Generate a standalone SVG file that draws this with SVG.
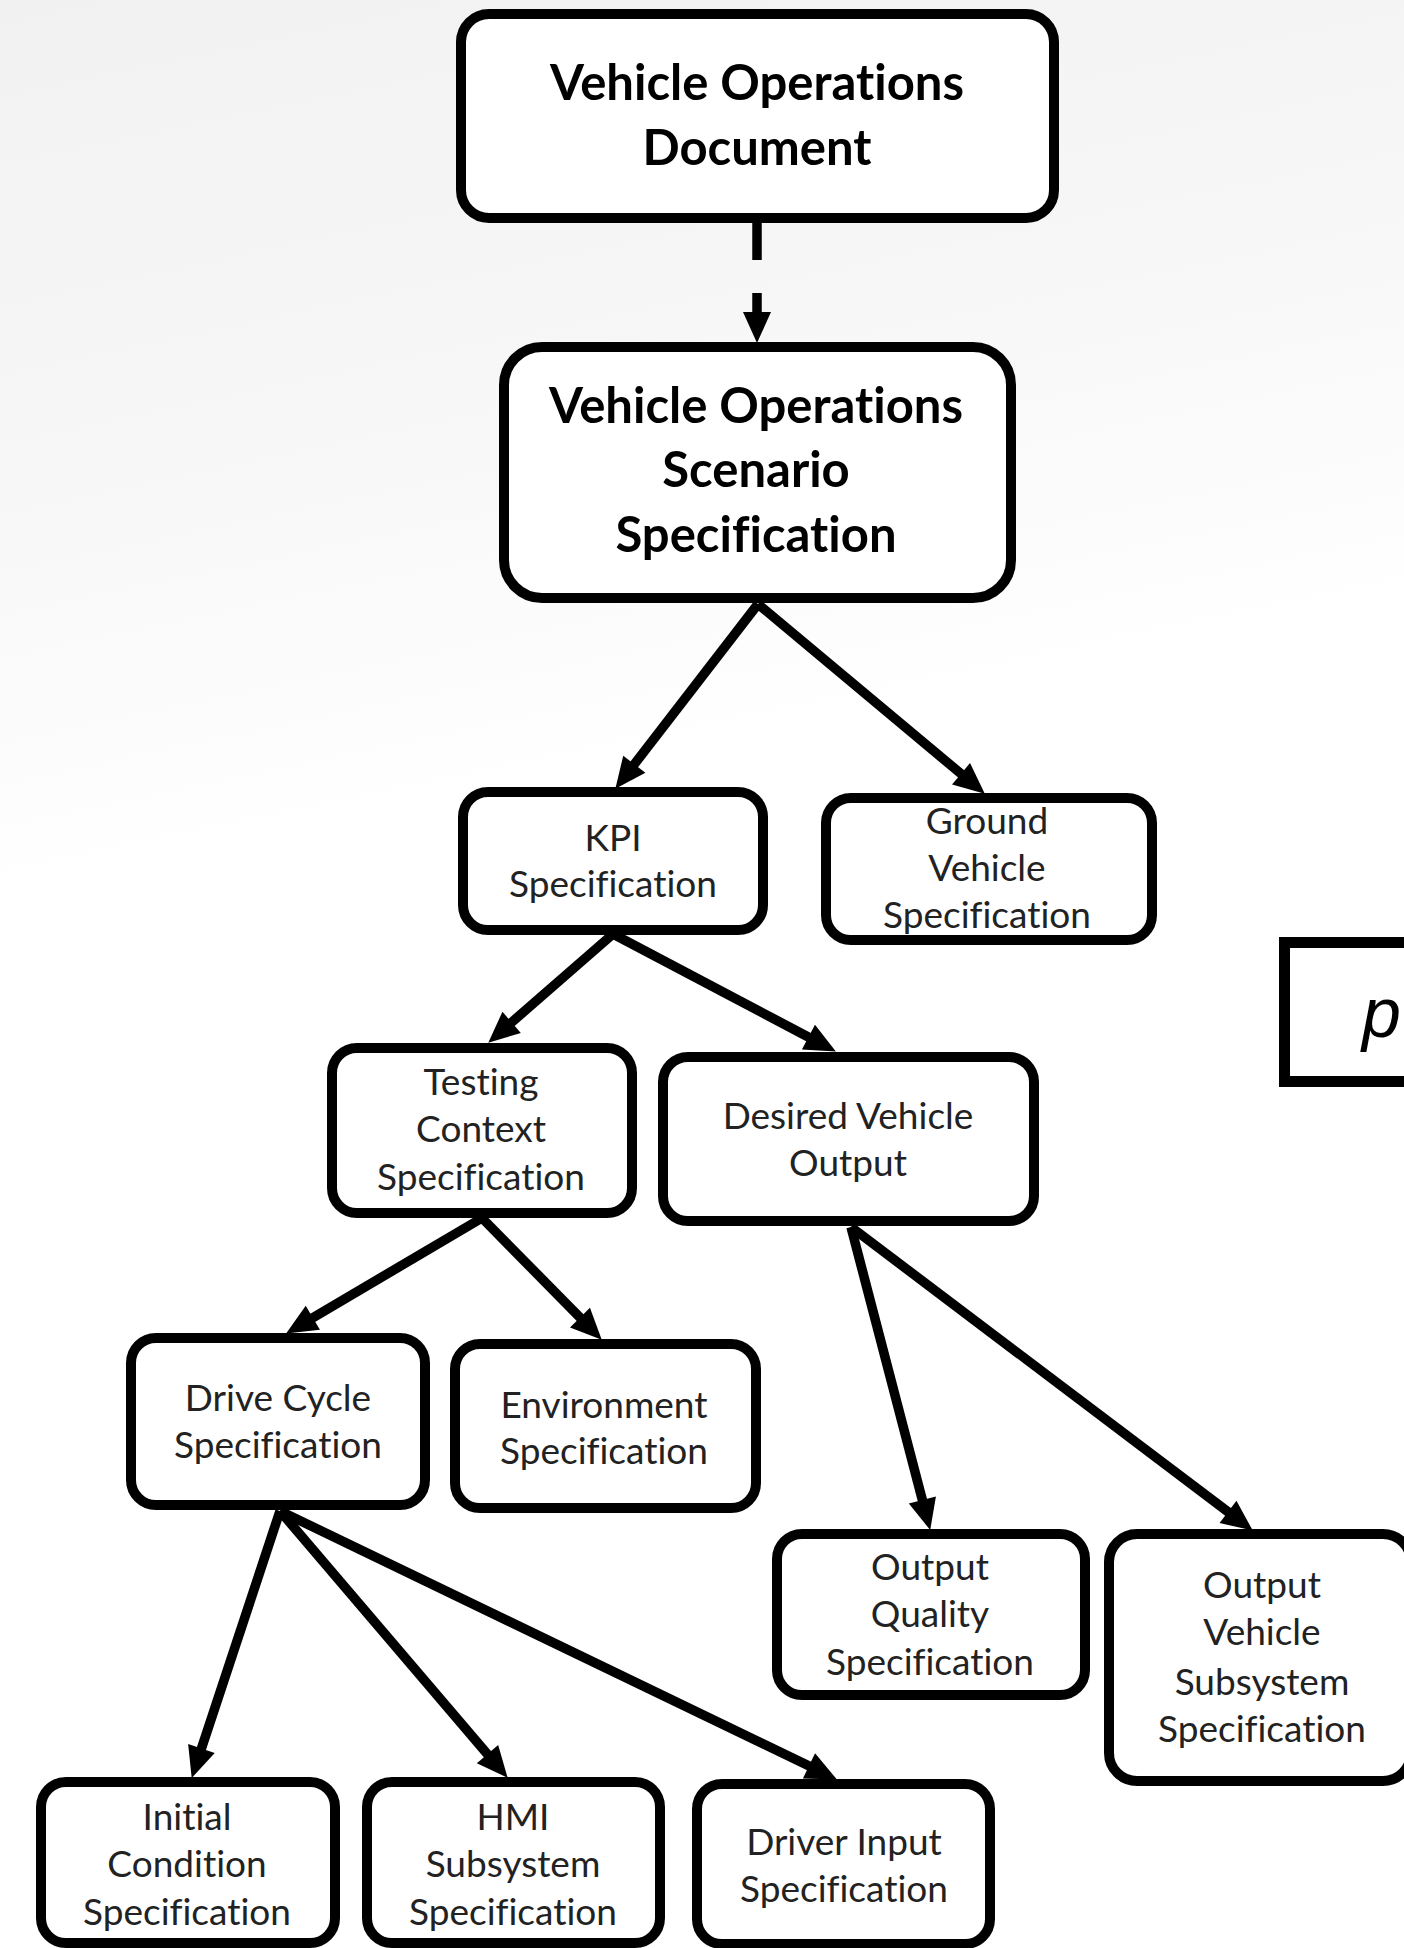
<svg xmlns="http://www.w3.org/2000/svg" width="1404" height="1948" viewBox="0 0 1404 1948">
  <defs>
    <linearGradient id="bg" x1="0" y1="0" x2="0.15" y2="1">
      <stop offset="0" stop-color="#f1f1f1"/>
      <stop offset="0.28" stop-color="#f8f8f8"/>
      <stop offset="0.45" stop-color="#ffffff"/>
      <stop offset="1" stop-color="#ffffff"/>
    </linearGradient>
    <marker id="head" markerUnits="userSpaceOnUse" markerWidth="32" markerHeight="30" refX="10" refY="14" orient="auto" overflow="visible">
      <path d="M0,0 L31,14 L0,28 Z" fill="#000"/>
    </marker>
    <style>
      .box { fill: #ffffff; stroke: #000000; stroke-width: 10; }
      .sq { fill: #ffffff; stroke: #000000; stroke-width: 11; }
      text { font-variant-ligatures: none; font-feature-settings: "liga" 0; }
      .big { font-family: Lato, "Open Sans", sans-serif; font-weight: 700; font-size: 49px; fill: #000; text-anchor: middle; }
      .lbl { font-family: Lato, "Open Sans", sans-serif; font-size: 37px; fill: #222; text-anchor: middle; }
      .ital { font-family: "Liberation Sans", Arial, sans-serif; font-style: italic; font-size: 70px; fill: #000; }
      .edge { fill: none; stroke: #000; stroke-width: 9.5; marker-end: url(#head); }
      .dash { stroke-dasharray: 38 33; }
    </style>
  </defs>

  <rect x="0" y="0" width="1404" height="1948" fill="url(#bg)"/>

  <!-- nodes -->
  <g id="vehicle-operations-document">
    <rect class="box" x="461" y="14" width="593" height="204" rx="28"/>
    <text class="big" x="757" y="100">Vehicle Operations</text>
    <text class="big" x="757" y="165">Document</text>
  </g>

  <g id="scenario-specification">
    <rect class="box" x="504" y="347" width="507" height="251" rx="38"/>
    <text class="big" x="756" y="423">Vehicle Operations</text>
    <text class="big" x="756" y="487">Scenario</text>
    <text class="big" x="756" y="552">Specification</text>
  </g>

  <g id="kpi-specification">
    <rect class="box" x="463" y="792" width="300" height="138" rx="25"/>
    <text class="lbl" x="613" y="851">KPI</text>
    <text class="lbl" x="613" y="897">Specification</text>
  </g>

  <g id="ground-vehicle-specification">
    <rect class="box" x="826" y="798" width="326" height="142" rx="25"/>
    <text class="lbl" x="987" y="834">Ground</text>
    <text class="lbl" x="987" y="881">Vehicle</text>
    <text class="lbl" x="987" y="928">Specification</text>
  </g>

  <g id="testing-context-specification">
    <rect class="box" x="332" y="1048" width="300" height="165" rx="25"/>
    <text class="lbl" x="481" y="1095">Testing</text>
    <text class="lbl" x="481" y="1142">Context</text>
    <text class="lbl" x="481" y="1190">Specification</text>
  </g>

  <g id="desired-vehicle-output">
    <rect class="box" x="663" y="1057" width="371" height="164" rx="25"/>
    <text class="lbl" x="848" y="1129">Desired Vehicle</text>
    <text class="lbl" x="848" y="1176">Output</text>
  </g>

  <g id="drive-cycle-specification">
    <rect class="box" x="131" y="1338" width="294" height="167" rx="25"/>
    <text class="lbl" x="278" y="1411">Drive Cycle</text>
    <text class="lbl" x="278" y="1458">Specification</text>
  </g>

  <g id="environment-specification">
    <rect class="box" x="455" y="1344" width="301" height="164" rx="25"/>
    <text class="lbl" x="604" y="1418">Environment</text>
    <text class="lbl" x="604" y="1464">Specification</text>
  </g>

  <g id="output-quality-specification">
    <rect class="box" x="777" y="1534" width="308" height="161" rx="25"/>
    <text class="lbl" x="930" y="1580">Output</text>
    <text class="lbl" x="930" y="1627">Quality</text>
    <text class="lbl" x="930" y="1675">Specification</text>
  </g>

  <g id="output-vehicle-subsystem-specification">
    <rect class="box" x="1109" y="1534" width="302" height="247" rx="28"/>
    <text class="lbl" x="1262" y="1598">Output</text>
    <text class="lbl" x="1262" y="1645">Vehicle</text>
    <text class="lbl" x="1262" y="1695">Subsystem</text>
    <text class="lbl" x="1262" y="1742">Specification</text>
  </g>

  <g id="initial-condition-specification">
    <rect class="box" x="41" y="1782" width="294" height="161" rx="25"/>
    <text class="lbl" x="187" y="1830">Initial</text>
    <text class="lbl" x="187" y="1877">Condition</text>
    <text class="lbl" x="187" y="1925">Specification</text>
  </g>

  <g id="hmi-subsystem-specification">
    <rect class="box" x="367" y="1782" width="293" height="161" rx="25"/>
    <text class="lbl" x="513" y="1830">HMI</text>
    <text class="lbl" x="513" y="1877">Subsystem</text>
    <text class="lbl" x="513" y="1925">Specification</text>
  </g>

  <g id="driver-input-specification">
    <rect class="box" x="697" y="1784" width="293" height="160" rx="25"/>
    <text class="lbl" x="844" y="1855">Driver Input</text>
    <text class="lbl" x="844" y="1902">Specification</text>
  </g>

  <g id="side-panel">
    <rect class="sq" x="1284.5" y="942.5" width="200" height="139"/>
    <text class="ital" x="1362" y="1037">p</text>
  </g>

  <!-- connectors -->
  <g id="connectors">
    <path class="edge dash" d="M757,222 L757,322"/>
    <path class="edge" d="M758,604 L628.2,772.2"/>
    <path class="edge" d="M758,604 L968.7,780.2"/>
    <path class="edge" d="M613,934 L504.1,1028.9"/>
    <path class="edge" d="M613,934 L817.3,1041.7"/>
    <path class="edge" d="M482,1218 L304.2,1322.8"/>
    <path class="edge" d="M482,1218 L587,1324.7"/>
    <path class="edge" d="M851,1227 L924.9,1509.7"/>
    <path class="edge" d="M851,1227 L1236,1517.9"/>
    <path class="edge" d="M280,1511 L198.3,1758"/>
    <path class="edge" d="M280,1511 L494,1761.8"/>
    <path class="edge" d="M280,1511 L818,1770.3"/>
  </g>
</svg>
